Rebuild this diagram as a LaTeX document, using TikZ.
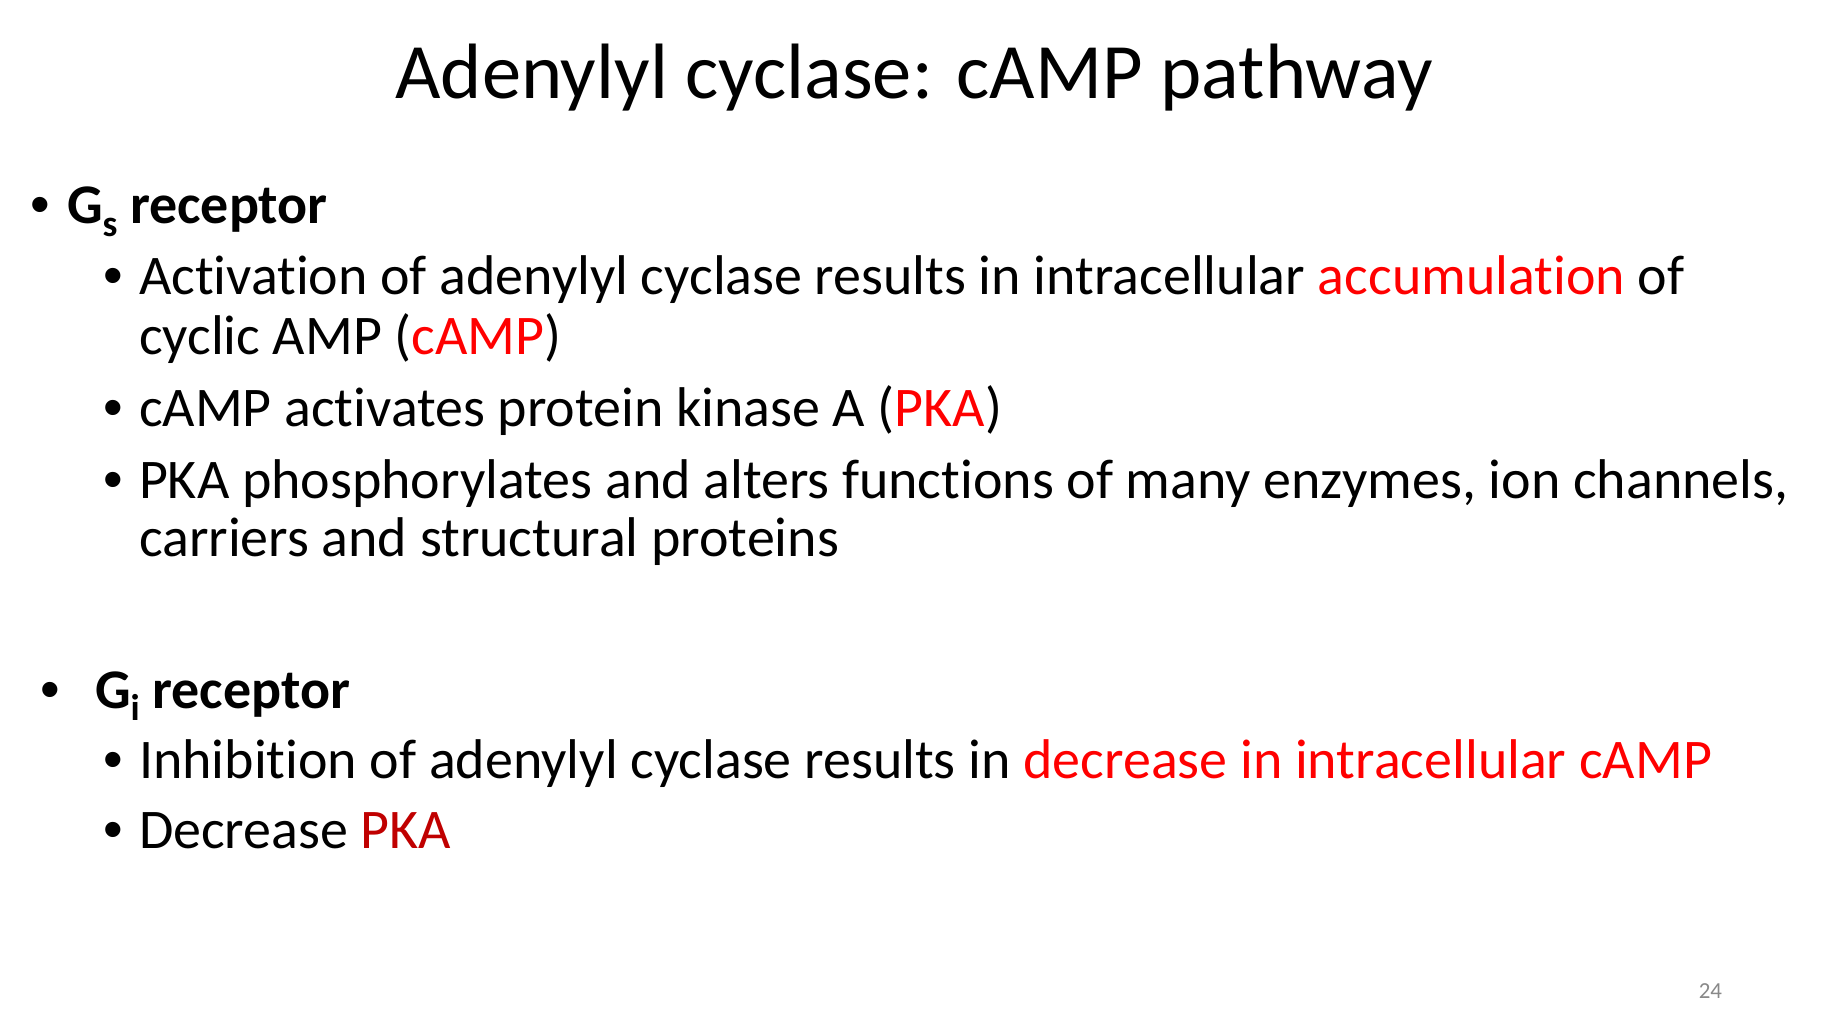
\documentclass[tikz,border=0pt]{standalone}
\usepackage{fontspec}
\setmainfont{Carlito}[Ligatures={NoCommon}]
\newfontfamily\bulfont{Liberation Sans}
\definecolor{hot}{HTML}{FF0000}
\definecolor{dark}{HTML}{C00000}
\definecolor{pgnum}{HTML}{898989}
\newcommand{\sbs}[1]{\raisebox{-0.22em}{\fontsize{19.5}{21}\selectfont #1}}
\tikzset{
  line/.style={anchor=base west, inner sep=0pt, outer sep=0pt, font=\fontsize{29.3}{34}\selectfont},
  head/.style={line, font=\fontsize{29.3}{34}\selectfont\bfseries},
  bul/.style={anchor=base, inner sep=0pt, outer sep=0pt, font=\fontsize{29.3}{34}\selectfont\bulfont},
  ttl/.style={anchor=base, inner sep=0pt, outer sep=0pt, font=\fontsize{41.1}{48}\selectfont},
  pnum/.style={anchor=base east, inner sep=0pt, outer sep=0pt, text=pgnum, font=\fontsize{12}{14}\selectfont}
}
\begin{document}
\begin{tikzpicture}[x=0.52364pt, y=-0.52364pt]
\useasboundingbox[fill=white] (0,0) rectangle (1834,1020);
\node[ttl] (title) at (914,99) {Adenylyl cyclase: cAMP pathway};
% Gs
\node[bul] (b1) at (40,224) {•};
\node[head] (gs) at (67,224) {G\sbs{s} receptor};
\node[bul] (b11) at (113,295) {•};
\node[line] (l11a) at (139,295) {Activation of adenylyl cyclase results in intracellular \textcolor{hot}{accumulation} of};
\node[line] (l11b) at (139,355) {cyclic AMP (\textcolor{hot}{cAMP})};
\node[bul] (b12) at (113,427) {•};
\node[line] (l12) at (139,427) {cAMP activates protein kinase A (\textcolor{hot}{PKA})};
\node[bul] (b13) at (113,498) {•};
\node[line] (l13a) at (139,498) {PKA phosphorylates and alters functions of many enzymes, ion channels,};
\node[line] (l13b) at (139,556) {carriers and structural proteins};
% Gi
\node[bul] (b2) at (50,708) {•};
\node[head] (gi) at (95,708) {G\sbs{i} receptor};
\node[bul] (b21) at (113,778) {•};
\node[line] (l21) at (139,778) {Inhibition of adenylyl cyclase results in \textcolor{hot}{decrease in intracellular cAMP}};
\node[bul] (b22) at (113,848) {•};
\node[line] (l22) at (139,848) {Decrease \textcolor{dark}{PKA}};
\node[pnum] (pg) at (1722,998) {24};
\end{tikzpicture}
\end{document}
